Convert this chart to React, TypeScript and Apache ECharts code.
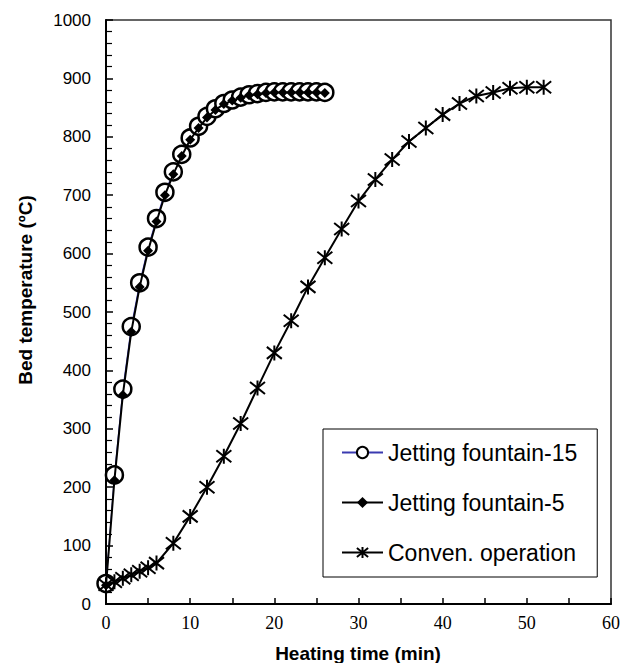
import React, { useEffect, useRef } from "react";
import * as echarts from "echarts";

// Jetting fountain-15 (open circles)
const times15 = [0, 1, 2, 3, 4, 5, 6, 7, 8, 9, 10, 11, 12, 13, 14, 15, 16, 17, 18, 19, 20, 21, 22, 23, 24, 25, 26];
const temps15 = [35, 221, 368, 475, 550, 611, 660, 705, 740, 770, 798, 818, 835, 848, 857, 863, 868, 872, 874, 876, 877, 877, 877, 877, 877, 877, 876];

// Jetting fountain-5 (filled diamonds)
const times5 = [0, 1, 2, 3, 4, 5, 6, 7, 8, 9, 10, 11, 12, 13, 14, 15, 16, 17, 18, 19, 20, 21, 22, 23, 24, 25, 26];
const temps5 = [32, 212, 358, 466, 543, 605, 655, 700, 736, 767, 795, 815, 833, 846, 856, 862, 867, 871, 873, 875, 876, 876, 876, 876, 876, 876, 875];

// Conven. operation (asterisks)
const timesConv = [0, 1, 2, 3, 4, 5, 6, 8, 10, 12, 14, 16, 18, 20, 22, 24, 26, 28, 30, 32, 34, 36, 38, 40, 42, 44, 46, 48, 50, 52];
const tempsConv = [33, 38, 44, 50, 56, 62, 70, 104, 150, 200, 253, 309, 370, 430, 485, 543, 593, 642, 690, 727, 761, 792, 815, 838, 857, 870, 876, 883, 885, 885];

const seriesNames = ["Jetting fountain-15", "Jetting fountain-5", "Conven. operation"];
const xTicks = { min: 0, max: 60, interval: 10 };
const yTicks = { min: 0, max: 1000, interval: 100 };

const pairs = (xs: number[], ys: number[]) => xs.map((x, i) => [x, ys[i]]);

const ASTERISK = "path://M1,1L9,9M9,1L1,9M5,0L5,10";

export default function App() {
  const ref = useRef<HTMLDivElement>(null);
  useEffect(() => {
    const chart = echarts.init(ref.current!, null, { renderer: "svg" });
    chart.setOption({
      animation: false,
      backgroundColor: "#fff",
      grid: {
        left: 106,
        top: 20,
        right: 20,
        bottom: 59,
        show: true,
        borderColor: "#333",
        borderWidth: 1.5,
        backgroundColor: "transparent",
      },
      xAxis: {
        type: "value",
        min: xTicks.min,
        max: xTicks.max,
        interval: xTicks.interval,
        axisLine: { show: true, lineStyle: { color: "#000", width: 2 } },
        axisTick: { show: true, inside: true, length: 6, lineStyle: { color: "#000", width: 1.5 } },
        minorTick: { show: true, splitNumber: 2, length: 6, lineStyle: { color: "#000", width: 1.5 } },
        splitLine: { show: false },
        axisLabel: {
          margin: 10,
          color: "#000",
          fontFamily: "Liberation Serif",
          fontSize: 18,
          formatter: (v: number) => String(v),
        },
      },
      yAxis: {
        type: "value",
        min: yTicks.min,
        max: yTicks.max,
        interval: yTicks.interval,
        axisLine: { show: true, lineStyle: { color: "#000", width: 2 } },
        axisTick: { show: true, inside: true, length: 7, lineStyle: { color: "#000", width: 1.5 } },
        minorTick: { show: true, splitNumber: 5, length: 6, lineStyle: { color: "#000", width: 1.2 } },
        splitLine: { show: false },
        axisLabel: {
          margin: 15,
          color: "#000",
          fontFamily: "Liberation Sans",
          fontSize: 17,
          formatter: (v: number) => String(v),
        },
      },
      legend: {
        orient: "vertical",
        left: 323,
        top: 429,
        padding: [12, 20, 13, 18],
        itemGap: 27,
        itemWidth: 41,
        itemHeight: 14,
        backgroundColor: "#fff",
        borderColor: "#000",
        borderWidth: 1,
        textStyle: { fontFamily: "Liberation Sans", fontSize: 23, color: "#000" },
        data: seriesNames,
      },
      graphic: [
        {
          type: "text",
          x: 358,
          y: 653,
          style: {
            text: "Heating time (min)",
            fontFamily: "Liberation Sans",
            fontWeight: "bold",
            fontSize: 19,
            fill: "#000",
            textAlign: "center",
            textVerticalAlign: "middle",
          },
        },
        {
          type: "text",
          x: 25,
          y: 290,
          rotation: Math.PI / 2,
          style: {
            text: "Bed temperature (ºC)",
            fontFamily: "Liberation Sans",
            fontWeight: "bold",
            fontSize: 19,
            fill: "#000",
            textAlign: "center",
            textVerticalAlign: "middle",
          },
        },
      ],
      series: [
        {
          name: seriesNames[0],
          type: "line",
          data: pairs(times15, temps15),
          symbol: "circle",
          symbolSize: 17,
          lineStyle: { color: "#3a3ab0", width: 1 },
          itemStyle: { color: "#fff", borderColor: "#000", borderWidth: 2.5 },
          z: 2,
        },
        {
          name: seriesNames[1],
          type: "line",
          data: pairs(times5, temps5),
          symbol: "diamond",
          symbolSize: 10,
          lineStyle: { color: "#000", width: 2 },
          itemStyle: { color: "#000", borderColor: "#000", borderWidth: 0 },
          z: 3,
        },
        {
          name: seriesNames[2],
          type: "line",
          data: pairs(timesConv, tempsConv),
          symbol: ASTERISK,
          symbolSize: 15,
          lineStyle: { color: "#000", width: 2 },
          itemStyle: { color: "#000", borderColor: "#000", borderWidth: 2 },
          z: 3,
        },
      ],
    });
    return () => chart.dispose();
  }, []);
  return (
    <div
      ref={ref}
      style={{ position: "absolute", left: 0, top: 0, width: 631, height: 663, background: "#fff" }}
    />
  );
}
